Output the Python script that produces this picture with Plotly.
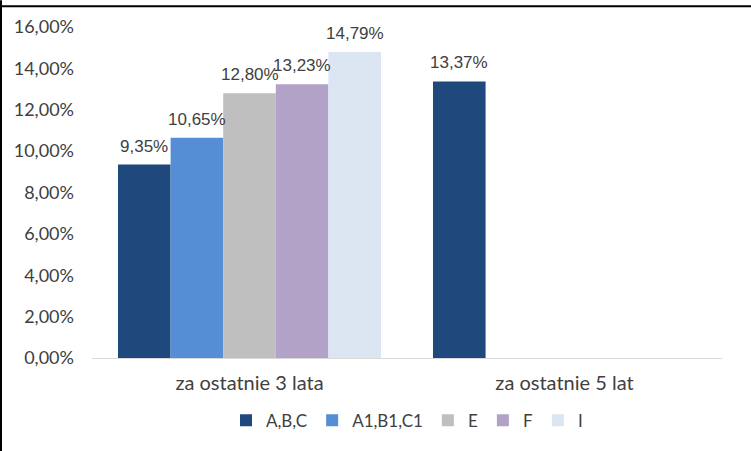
import plotly.graph_objects as go

categories = ["za ostatnie 3 lata", "za ostatnie 5 lat"]
series_names = ["A,B,C", "A1,B1,C1", "E", "F", "I"]
values = {
    "A,B,C": [0.0935, 0.1337],
    "A1,B1,C1": [0.1065, None],
    "E": [0.1280, None],
    "F": [0.1323, None],
    "I": [0.1479, None],
}
colors = ["#1F497D", "#558ED5", "#BFBFBF", "#B3A2C7", "#DCE6F2"]
tick_vals = [0, 0.02, 0.04, 0.06, 0.08, 0.10, 0.12, 0.14, 0.16]

W, H = 751, 451
ml, mr, mt, mb = 92, 29, 27, 91
pw, ph = W - ml - mr, H - mt - mb
bargap = 0.165
n = len(series_names)
bar_px = (pw / len(categories)) * (1 - bargap) / n

fig = go.Figure()
annotations = []
for i, (name, col) in enumerate(zip(series_names, colors)):
    fig.add_trace(go.Bar(
        x=categories, y=values[name], name=name,
        marker=dict(color=col, line=dict(width=0)),
    ))
    for cat, v in zip(categories, values[name]):
        if v is None:
            continue
        annotations.append(dict(
            x=cat, y=v, xref="x", yref="y",
            text=f"{v * 100:.2f}%".replace(".", ","),
            showarrow=False, xanchor="center", yanchor="bottom",
            xshift=(i - (n - 1) / 2) * bar_px, yshift=7,
            font=dict(size=17, color="#404040", family="Liberation Sans, Arial"),
        ))

fig.update_layout(
    width=W, height=H,
    margin=dict(l=ml, r=mr, t=mt, b=mb),
    barmode="group", bargap=bargap, bargroupgap=0,
    separators=", ",
    paper_bgcolor="white", plot_bgcolor="white",
    font=dict(family="Lato, Open Sans, sans-serif", size=17, color="#404040"),
    showlegend=True,
    legend=dict(orientation="h", x=0.5, xanchor="center", y=-0.135, yanchor="top",
                font=dict(size=17, color="#404040"), itemwidth=30, traceorder="normal"),
    xaxis=dict(showline=True, linecolor="#D9D9D9", linewidth=1, ticks="",
               ticklabelstandoff=7,
               tickfont=dict(size=20, color="#404040")),
    yaxis=dict(range=[0, 0.16], tickvals=tick_vals, tickformat=".2%",
               showgrid=False, zeroline=False, showline=False, ticks="",
               ticklabelstandoff=17,
               tickfont=dict(size=18, color="#404040")),
    annotations=annotations,
    shapes=[
        dict(type="line", xref="paper", yref="paper", x0=-ml / pw, x1=(pw + mr) / pw,
             y0=1 + (mt - 6) / ph, y1=1 + (mt - 6) / ph, line=dict(color="black", width=2)),
        dict(type="line", xref="paper", yref="paper", x0=-(ml - 1) / pw, x1=-(ml - 1) / pw,
             y0=-(mb + 10) / ph, y1=1 + mt / ph, line=dict(color="black", width=2)),
    ],
)

fig.write_html("out.html", config={"displayModeBar": False})
